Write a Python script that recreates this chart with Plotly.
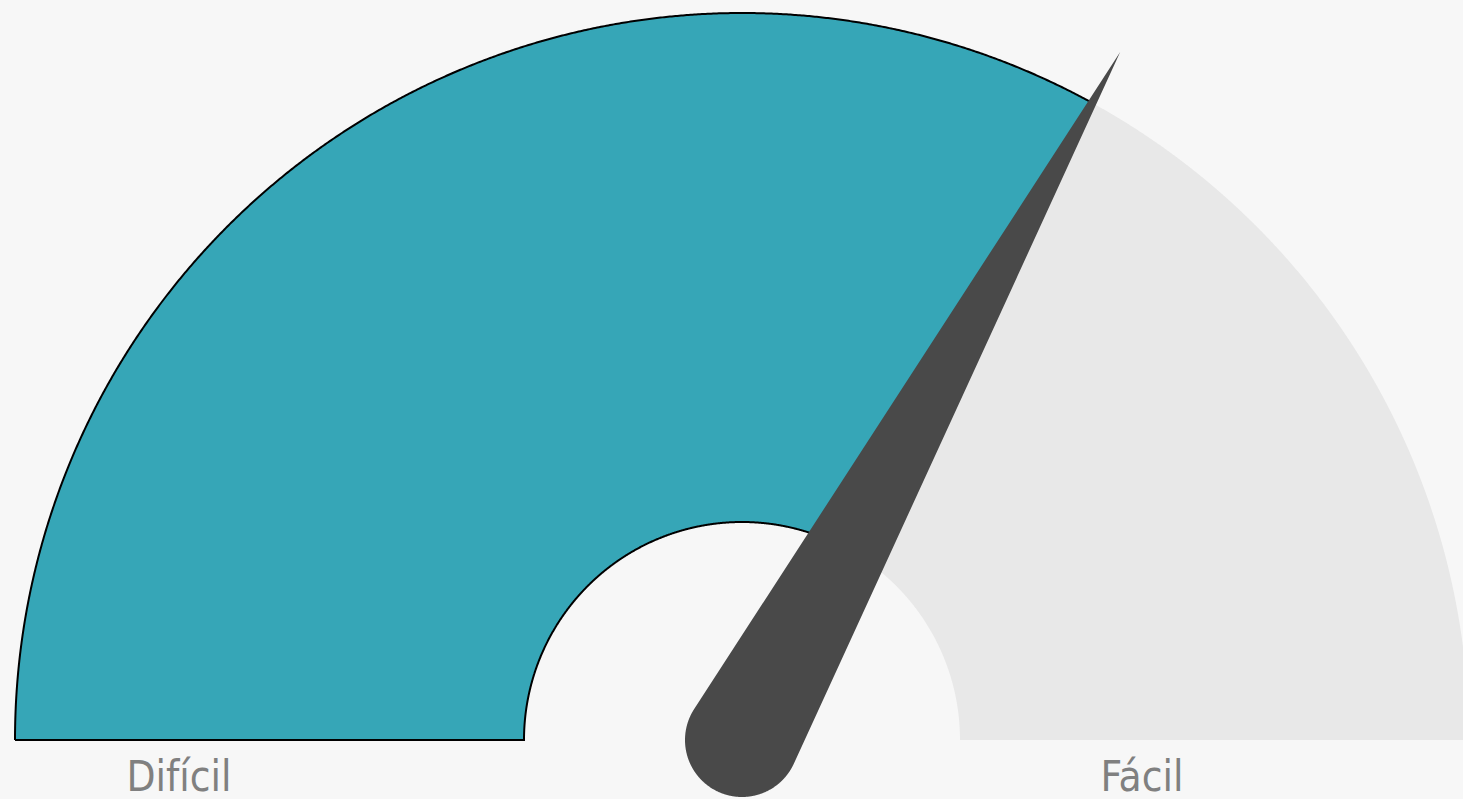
import numpy as np
import plotly.graph_objects as go

# ---- data ----
value = [0.66]              # gauge fill fraction (0 = Difícil, 1 = Fácil)
range_labels = ["Difícil", "Fácil"]

# ---- geometry / style (pixel-like units, y up) ----
W, H = 1463, 799
CX, CY = 742, 799 - 740
R_OUT, R_IN = 727, 218
NEEDLE_LEN = 785
NEEDLE_BASE = 57
LABEL_X = [179, 1142]
LABEL_Y = 799 - 780
TEAL = "#36a6b7"
GRAY = "#e8e8e8"
BG = "#f7f7f7"
NEEDLE = "#494949"


def sector(a0, a1, n=800):
    t = np.linspace(a0, a1, n)
    xo = CX + R_OUT * np.cos(t)
    yo = CY + R_OUT * np.sin(t)
    xi = CX + R_IN * np.cos(t[::-1])
    yi = CY + R_IN * np.sin(t[::-1])
    x = np.concatenate([xo, xi, xo[:1]])
    y = np.concatenate([yo, yi, yo[:1]])
    return x, y


v = value[0]
theta = np.pi * (1 - v)

fig = go.Figure()

# remaining (gray) part
gx, gy = sector(theta, 0)
fig.add_trace(go.Scatter(x=gx, y=gy, mode="lines", fill="toself", fillcolor=GRAY,
                         line=dict(width=0, color=GRAY, simplify=False), hoverinfo="skip"))

# filled (teal) part
fx, fy = sector(np.pi, theta)
fig.add_trace(go.Scatter(x=fx, y=fy, mode="lines", fill="toself", fillcolor=TEAL,
                         line=dict(width=2, color="black", simplify=False), hoverinfo="skip"))

# needle: base circle + tapered triangle to tip
tipx = CX + NEEDLE_LEN * np.cos(theta)
tipy = CY + NEEDLE_LEN * np.sin(theta)
phi = np.arccos(NEEDLE_BASE / NEEDLE_LEN)
arc = np.linspace(theta + phi, theta + 2 * np.pi - phi, 400)
nx = np.concatenate([[tipx], CX + NEEDLE_BASE * np.cos(arc), [tipx]])
ny = np.concatenate([[tipy], CY + NEEDLE_BASE * np.sin(arc), [tipy]])
fig.add_trace(go.Scatter(x=nx, y=ny, mode="lines", fill="toself", fillcolor=NEEDLE,
                         line=dict(width=0, color=NEEDLE, simplify=False), hoverinfo="skip"))

# labels
fig.add_trace(go.Scatter(x=LABEL_X, y=[LABEL_Y] * 2, mode="text", text=range_labels,
                         textposition="middle center",
                         textfont=dict(family="DejaVu Sans Condensed, Liberation Sans Narrow, Roboto",
                                       size=42, color="#808080"),
                         cliponaxis=False,
                         hoverinfo="skip"))

fig.update_layout(
    width=W, height=H, autosize=False,
    margin=dict(l=0, r=0, t=0, b=0),
    paper_bgcolor=BG, plot_bgcolor=BG,
    showlegend=False,
    xaxis=dict(range=[0, W], visible=False, fixedrange=True),
    yaxis=dict(range=[0, H], visible=False, fixedrange=True),
)

fig.write_html(
    "out.html",
    config={"displayModeBar": False},
    post_script="document.body.style.margin='0';document.body.style.background='%s';" % BG,
)
